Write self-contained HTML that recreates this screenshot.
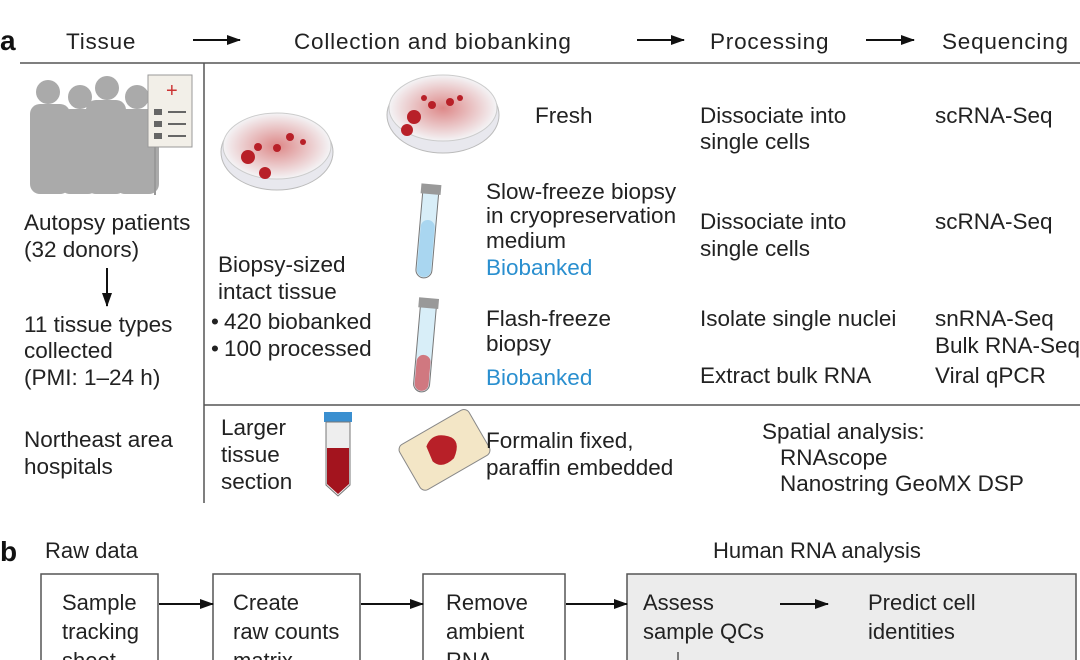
<!DOCTYPE html>
<html><head><style>
html,body{margin:0;padding:0;background:#fff;}
svg{display:block;}
text{font-family:"Liberation Sans",sans-serif;font-size:22.5px;fill:#222;}
.b{fill:#2a8fcf;}
.s{font-size:22px;}
.h{letter-spacing:0.8px;}
</style></head><body>
<svg width="1080" height="660" viewBox="0 0 1080 660" xmlns="http://www.w3.org/2000/svg">
<defs>
<marker id="ah" markerWidth="14" markerHeight="10" refX="13" refY="5" orient="auto" markerUnits="userSpaceOnUse"><path d="M0,0 L14,5 L0,10 z" fill="#111"/></marker>
<radialGradient id="rg"><stop offset="0" stop-color="#d88"/><stop offset="1" stop-color="#f4f4f6"/></radialGradient>
</defs>
<text x="0" y="50" style="font-weight:bold;font-size:28px;fill:#111">a</text>
<text x="66" y="49" class="h">Tissue</text>
<line x1="193" y1="40" x2="240" y2="40" stroke="#111" stroke-width="2" marker-end="url(#ah)"/>
<text x="294" y="49" class="h">Collection and biobanking</text>
<line x1="637" y1="40" x2="684" y2="40" stroke="#111" stroke-width="2" marker-end="url(#ah)"/>
<text x="710" y="49" class="h">Processing</text>
<line x1="866" y1="40" x2="914" y2="40" stroke="#111" stroke-width="2" marker-end="url(#ah)"/>
<text x="942" y="49" class="h">Sequencing</text>
<line x1="20" y1="63" x2="1080" y2="63" stroke="#555" stroke-width="1.5"/>
<line x1="204" y1="63" x2="204" y2="503" stroke="#555" stroke-width="1.5"/>
<line x1="204" y1="405" x2="1080" y2="405" stroke="#555" stroke-width="1.5"/>
<g fill="#aaa">
<circle cx="48" cy="92" r="12"/><rect x="30" y="104" width="40" height="90" rx="10"/>
<circle cx="80" cy="97" r="12"/><rect x="60" y="109" width="38" height="85" rx="10"/>
<circle cx="107" cy="88" r="12"/><rect x="86" y="100" width="40" height="94" rx="10"/>
<circle cx="137" cy="97" r="12"/><rect x="115" y="109" width="44" height="85" rx="10"/>
</g>
<rect x="148" y="75" width="44" height="72" fill="#f2efe8" stroke="#999"/>
<line x1="155" y1="147" x2="155" y2="195" stroke="#999" stroke-width="2"/>
<text x="166" y="97" style="fill:#c33;font-size:20px">+</text>
<g fill="#666"><rect x="154" y="109" width="8" height="6"/><rect x="154" y="121" width="8" height="6"/><rect x="154" y="133" width="8" height="6"/></g>
<g stroke="#666" stroke-width="2"><line x1="168" y1="112" x2="186" y2="112"/><line x1="168" y1="124" x2="186" y2="124"/><line x1="168" y1="136" x2="186" y2="136"/></g>
<text x="24" y="230">Autopsy patients</text>
<text x="24" y="257">(32 donors)</text>
<line x1="107" y1="268" x2="107" y2="306" stroke="#111" stroke-width="2" marker-end="url(#ah)"/>
<text x="24" y="332">11 tissue types</text>
<text x="24" y="358">collected</text>
<text x="24" y="385">(PMI: 1–24 h)</text>
<text x="24" y="447">Northeast area</text>
<text x="24" y="474">hospitals</text>
<ellipse cx="277" cy="152" rx="56" ry="38" fill="#e8e8ee" stroke="#bbb"/>
<ellipse cx="277" cy="146" rx="54" ry="33" fill="url(#rg)" stroke="#ccc"/>
<g fill="#b82028"><circle cx="248" cy="157" r="7"/><circle cx="258" cy="147" r="4"/><circle cx="277" cy="148" r="4"/><circle cx="290" cy="137" r="4"/><circle cx="265" cy="173" r="6"/><circle cx="303" cy="142" r="3"/></g>
<ellipse cx="443" cy="115" rx="56" ry="38" fill="#e8e8ee" stroke="#bbb"/>
<ellipse cx="443" cy="108" rx="54" ry="33" fill="url(#rg)" stroke="#ccc"/>
<g fill="#b82028"><circle cx="414" cy="117" r="7"/><circle cx="432" cy="105" r="4"/><circle cx="424" cy="98" r="3"/><circle cx="450" cy="102" r="4"/><circle cx="407" cy="130" r="6"/><circle cx="460" cy="98" r="3"/></g>
<text x="535" y="123">Fresh</text>
<g transform="rotate(5 427 235)"><rect x="419" y="186" width="16" height="92" rx="8" fill="#d8eef8" stroke="#777"/><rect x="420" y="220" width="14" height="57" rx="7" fill="#a9d6f0"/><rect x="417" y="184" width="20" height="10" fill="#999"/></g>
<g transform="rotate(5 425 345)"><rect x="417" y="300" width="16" height="92" rx="8" fill="#d8eef8" stroke="#777"/><rect x="418" y="355" width="14" height="36" rx="7" fill="#d07880"/><rect x="415" y="298" width="20" height="10" fill="#999"/></g>
<rect x="324" y="412" width="28" height="10" fill="#3a8fd0"/>
<path d="M326,422 L350,422 L350,485 L338,496 L326,485 Z" fill="#eee" stroke="#777"/>
<path d="M327,448 L349,448 L349,484 L338,494 L327,484 Z" fill="#a3141e"/>
<g transform="rotate(-30 444 449)"><rect x="404" y="424" width="80" height="52" rx="6" fill="#f3e6c6" stroke="#888"/><path d="M430,438 q12,-10 24,2 q10,10 -6,22 q-16,4 -20,-8 z" fill="#b82028"/></g>
<text x="218" y="272">Biopsy-sized</text>
<text x="218" y="299">intact tissue</text>
<text x="211" y="329">•</text><text x="224" y="329">420 biobanked</text>
<text x="211" y="356">•</text><text x="224" y="356">100 processed</text>
<text x="486" y="199">Slow-freeze biopsy</text>
<text x="486" y="223">in cryopreservation</text>
<text x="486" y="248">medium</text>
<text x="486" y="275" class="b">Biobanked</text>
<text x="486" y="326">Flash-freeze</text>
<text x="486" y="351">biopsy</text>
<text x="486" y="385" class="b">Biobanked</text>
<text x="221" y="435">Larger</text>
<text x="221" y="462">tissue</text>
<text x="221" y="489">section</text>
<text x="486" y="448">Formalin fixed,</text>
<text x="486" y="475">paraffin embedded</text>
<text x="700" y="123">Dissociate into</text>
<text x="700" y="149">single cells</text>
<text x="700" y="229">Dissociate into</text>
<text x="700" y="256">single cells</text>
<text x="700" y="326">Isolate single nuclei</text>
<text x="700" y="383">Extract bulk RNA</text>
<text x="935" y="123">scRNA-Seq</text>
<text x="935" y="229">scRNA-Seq</text>
<text x="935" y="326">snRNA-Seq</text>
<text x="935" y="353">Bulk RNA-Seq</text>
<text x="935" y="383">Viral qPCR</text>
<text x="762" y="439">Spatial analysis:</text>
<text x="780" y="465">RNAscope</text>
<text x="780" y="491">Nanostring GeoMX DSP</text>
<text x="0" y="561" style="font-weight:bold;font-size:28px;fill:#111">b</text>
<text x="45" y="558" class="s">Raw data</text>
<text x="713" y="558" class="s">Human RNA analysis</text>
<rect x="41" y="574" width="117" height="100" fill="#fff" stroke="#555" stroke-width="1.5"/>
<rect x="213" y="574" width="147" height="100" fill="#fff" stroke="#555" stroke-width="1.5"/>
<rect x="423" y="574" width="142" height="100" fill="#fff" stroke="#555" stroke-width="1.5"/>
<rect x="627" y="574" width="449" height="100" fill="#ececec" stroke="#555" stroke-width="1.5"/>
<line x1="159" y1="604" x2="213" y2="604" stroke="#111" stroke-width="2" marker-end="url(#ah)"/>
<line x1="361" y1="604" x2="423" y2="604" stroke="#111" stroke-width="2" marker-end="url(#ah)"/>
<line x1="566" y1="604" x2="627" y2="604" stroke="#111" stroke-width="2" marker-end="url(#ah)"/>
<line x1="780" y1="604" x2="828" y2="604" stroke="#111" stroke-width="2" marker-end="url(#ah)"/>
<line x1="678" y1="652" x2="678" y2="660" stroke="#555" stroke-width="1.5"/>
<text x="62" y="610" class="s">Sample</text><text x="62" y="639" class="s">tracking</text><text x="62" y="668" class="s">sheet</text>
<text x="233" y="610" class="s">Create</text><text x="233" y="639" class="s">raw counts</text><text x="233" y="668" class="s">matrix</text>
<text x="446" y="610" class="s">Remove</text><text x="446" y="639" class="s">ambient</text><text x="446" y="668" class="s">RNA</text>
<text x="643" y="610" class="s">Assess</text><text x="643" y="639" class="s">sample QCs</text>
<text x="868" y="610" class="s">Predict cell</text><text x="868" y="639" class="s">identities</text>
</svg>
</body></html>
